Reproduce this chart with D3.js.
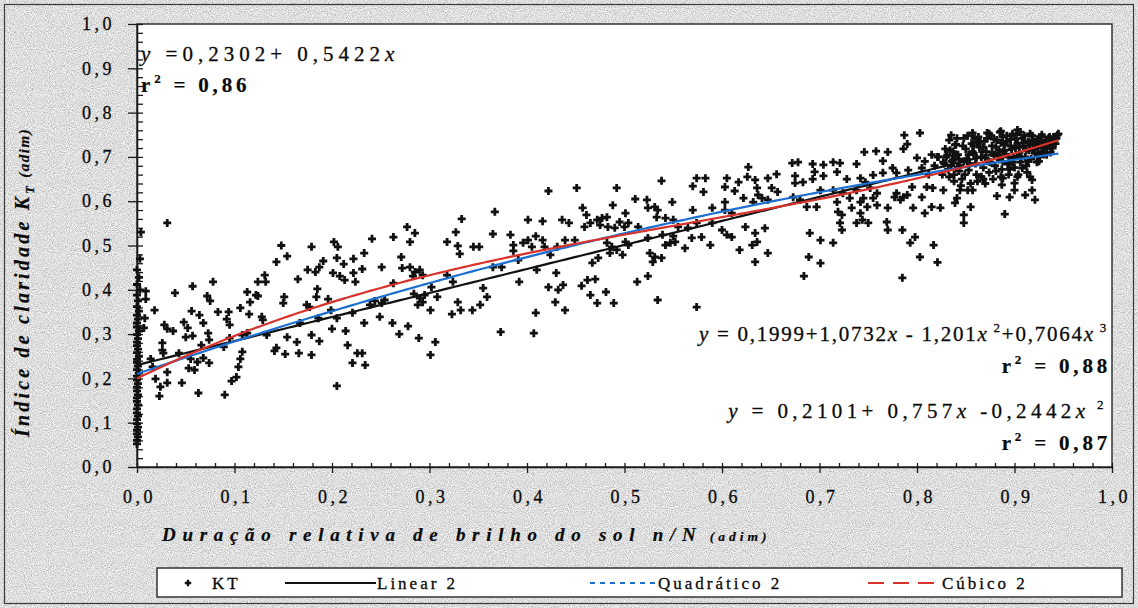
<!DOCTYPE html>
<html>
<head>
<meta charset="utf-8">
<script src="https://cdn.jsdelivr.net/npm/d3@7"></script>
<style>
  body { margin: 0; background: #b8b8b8; }
  svg { display: block; }
  text { font-family: "Liberation Serif", "DejaVu Serif", serif; }
</style>
</head>
<body>
<svg id="chart" width="1138" height="608"></svg>
<script>
// ---- data -------------------------------------------------------------
const xTickValues = [0, 0.1, 0.2, 0.3, 0.4, 0.5, 0.6, 0.7, 0.8, 0.9, 1.0];
const xTickLabels = ["0,0", "0,1", "0,2", "0,3", "0,4", "0,5", "0,6", "0,7", "0,8", "0,9", "1,0"];
const yTickValues = [0, 0.1, 0.2, 0.3, 0.4, 0.5, 0.6, 0.7, 0.8, 0.9, 1.0];
const yTickLabels = ["0,0", "0,1", "0,2", "0,3", "0,4", "0,5", "0,6", "0,7", "0,8", "0,9", "1,0"];

// fitted models (coefficients of a0 + a1 x + a2 x^2 + a3 x^3)
const linearCoef = [0.2302, 0.5422];
const quadCoef = [0.2101, 0.757, -0.2442];
const cubicCoef = [0.1999, 1.0732, -1.201, 0.7064];
const fitRange = [0, 0.945];

const legendLabels = ["KT", "Linear 2", "Quadrático 2", "Cúbico 2"];

// daily observations: [n/N, KT]
const ktPoints = [
  // overcast days (n/N ~ 0)
  [0,0.052],[0,0.060],[0.001,0.068],[0,0.075],[0,0.083],[0.001,0.090],[0,0.098],[0,0.107],[0.001,0.115],[0,0.122],
  [0,0.131],[0.001,0.140],[0,0.148],[0,0.156],[0.001,0.163],[0,0.172],[0,0.180],[0.001,0.188],[0,0.196],[0,0.205],
  [0.002,0.212],[0,0.220],[0.001,0.228],[0,0.236],[0,0.243],[0.002,0.250],[0,0.258],[0.001,0.266],[0,0.274],[0,0.282],
  [0.001,0.290],[0,0.299],[0.002,0.307],[0,0.316],[0,0.325],[0.001,0.334],[0,0.343],[0.002,0.352],[0,0.362],[0.001,0.375],
  [0,0.388],[0.003,0.400],[0,0.412],[0.002,0.428],[0,0.445],[0.003,0.470],[0.004,0.530],
  // 0 – 0.17
  [0.031,0.551],[0.148,0.500],[0.154,0.476],[0.143,0.463],[0.131,0.433],[0.124,0.418],[0.132,0.418],[0.165,0.424],[0.078,0.418],[0.057,0.408],
  [0.039,0.393],[0.009,0.397],[0.009,0.379],[0.072,0.386],[0.075,0.375],[0.113,0.395],[0.122,0.388],[0.116,0.372],[0.124,0.386],[0.151,0.384],
  [0.150,0.370],[0.018,0.354],[0.056,0.352],[0.064,0.343],[0.083,0.350],[0.094,0.350],[0.106,0.359],[0.115,0.345],[0.092,0.334],[0.095,0.321],
  [0.128,0.339],[0.129,0.332],[0.008,0.336],[0.007,0.314],[0.048,0.327],[0.068,0.325],[0.028,0.321],[0.031,0.312],[0.037,0.307],[0.052,0.314],
  [0.050,0.293],[0.057,0.296],[0.073,0.302],[0.074,0.287],[0.026,0.280],[0.026,0.264],[0.027,0.257],[0.043,0.257],[0.066,0.275],[0.089,0.271],
  [0.095,0.291],[0.108,0.298],[0.113,0.302],[0.133,0.298],[0.154,0.293],[0.143,0.269],[0.141,0.262],[0.152,0.255],[0.108,0.260],[0.106,0.244],
  [0.104,0.226],[0.102,0.203],[0.097,0.194],[0.014,0.244],[0.016,0.226],[0.055,0.244],[0.062,0.237],[0.068,0.246],[0.074,0.235],[0.053,0.223],
  [0.059,0.219],[0.031,0.214],[0.019,0.199],[0.031,0.190],[0.024,0.181],[0.023,0.160],[0.046,0.190],[0.063,0.167],[0.090,0.163],[0.166,0.257],
  [0.164,0.282],
  // 0.17 – 0.33
  [0.333,0.560],[0.327,0.530],[0.318,0.508],[0.329,0.499],[0.331,0.481],[0.277,0.542],[0.285,0.528],[0.280,0.508],[0.263,0.519],[0.241,0.515],
  [0.233,0.483],[0.202,0.508],[0.206,0.497],[0.179,0.497],[0.191,0.465],[0.187,0.451],[0.205,0.472],[0.212,0.458],[0.222,0.470],[0.231,0.447],
  [0.175,0.445],[0.183,0.440],[0.201,0.438],[0.208,0.431],[0.222,0.438],[0.213,0.422],[0.224,0.418],[0.251,0.451],[0.271,0.474],[0.272,0.449],
  [0.280,0.451],[0.285,0.440],[0.290,0.445],[0.293,0.433],[0.283,0.431],[0.185,0.402],[0.184,0.384],[0.174,0.366],[0.177,0.361],[0.196,0.379],
  [0.199,0.354],[0.167,0.325],[0.186,0.336],[0.205,0.336],[0.221,0.348],[0.239,0.366],[0.244,0.375],[0.251,0.370],[0.254,0.377],[0.263,0.415],
  [0.249,0.339],[0.233,0.325],[0.262,0.325],[0.200,0.312],[0.214,0.307],[0.179,0.298],[0.187,0.284],[0.179,0.253],[0.216,0.275],[0.226,0.257],
  [0.231,0.257],[0.221,0.235],[0.234,0.230],[0.205,0.183],[0.269,0.300],[0.278,0.318],[0.289,0.291],[0.306,0.282],[0.301,0.253],[0.284,0.391],
  [0.290,0.381],[0.288,0.366],[0.295,0.388],[0.293,0.372],[0.301,0.354],[0.308,0.384],[0.302,0.406],[0.318,0.433],[0.324,0.418],[0.323,0.345],
  [0.332,0.354],[0.329,0.372],
  // 0.33 – 0.50
  [0.422,0.623],[0.451,0.630],[0.492,0.630],[0.367,0.576],[0.401,0.558],[0.416,0.555],[0.436,0.558],[0.443,0.551],[0.488,0.591],[0.457,0.585],
  [0.461,0.569],[0.365,0.526],[0.383,0.524],[0.409,0.521],[0.401,0.512],[0.396,0.506],[0.386,0.501],[0.386,0.488],[0.416,0.512],[0.418,0.497],
  [0.405,0.497],[0.439,0.512],[0.449,0.512],[0.431,0.497],[0.424,0.479],[0.345,0.497],[0.351,0.497],[0.459,0.542],[0.465,0.551],[0.472,0.558],
  [0.477,0.562],[0.482,0.564],[0.475,0.546],[0.483,0.542],[0.490,0.540],[0.495,0.553],[0.500,0.542],[0.482,0.506],[0.487,0.497],[0.492,0.490],
  [0.498,0.479],[0.485,0.483],[0.473,0.472],[0.467,0.461],[0.391,0.467],[0.365,0.451],[0.374,0.451],[0.410,0.445],[0.392,0.418],[0.430,0.438],
  [0.355,0.404],[0.359,0.384],[0.352,0.366],[0.344,0.354],[0.422,0.406],[0.432,0.400],[0.437,0.411],[0.429,0.372],[0.439,0.354],[0.409,0.348],
  [0.407,0.302],[0.456,0.409],[0.462,0.422],[0.470,0.424],[0.465,0.388],[0.472,0.370],[0.481,0.395],[0.489,0.370],[0.373,0.305],
  // 0.50 – 0.67
  [0.627,0.677],[0.672,0.686],[0.538,0.646],[0.574,0.652],[0.583,0.652],[0.570,0.634],[0.581,0.621],[0.605,0.652],[0.617,0.643],[0.603,0.632],
  [0.613,0.623],[0.626,0.655],[0.634,0.648],[0.636,0.630],[0.637,0.614],[0.632,0.598],[0.641,0.607],[0.647,0.652],[0.656,0.661],[0.651,0.630],
  [0.657,0.621],[0.647,0.603],[0.511,0.605],[0.523,0.603],[0.524,0.585],[0.531,0.587],[0.534,0.580],[0.549,0.598],[0.501,0.573],[0.504,0.551],
  [0.514,0.542],[0.533,0.564],[0.542,0.562],[0.550,0.558],[0.570,0.580],[0.590,0.585],[0.603,0.598],[0.603,0.580],[0.622,0.607],[0.610,0.573],
  [0.590,0.551],[0.555,0.542],[0.565,0.540],[0.574,0.551],[0.501,0.508],[0.504,0.501],[0.524,0.517],[0.539,0.524],[0.550,0.521],[0.542,0.501],
  [0.552,0.508],[0.547,0.506],[0.562,0.494],[0.569,0.517],[0.579,0.519],[0.588,0.501],[0.600,0.535],[0.605,0.524],[0.610,0.519],[0.624,0.542],
  [0.634,0.528],[0.636,0.508],[0.644,0.539],[0.631,0.501],[0.618,0.490],[0.634,0.463],[0.647,0.483],[0.526,0.483],[0.531,0.474],[0.538,0.472],
  [0.529,0.463],[0.513,0.418],[0.524,0.431],[0.534,0.377],[0.574,0.361],
  // 0.67 – 0.84
  [0.787,0.749],[0.803,0.754],[0.835,0.749],[0.839,0.727],[0.790,0.729],[0.786,0.718],[0.746,0.711],[0.758,0.713],[0.770,0.711],[0.678,0.688],
  [0.800,0.698],[0.765,0.691],[0.738,0.684],[0.693,0.684],[0.704,0.682],[0.714,0.688],[0.721,0.686],[0.718,0.666],[0.695,0.666],[0.704,0.657],
  [0.693,0.650],[0.683,0.643],[0.675,0.657],[0.675,0.641],[0.728,0.650],[0.742,0.652],[0.747,0.643],[0.755,0.659],[0.765,0.664],[0.775,0.675],
  [0.779,0.664],[0.791,0.670],[0.805,0.675],[0.821,0.700],[0.827,0.688],[0.831,0.704],[0.837,0.693],[0.842,0.677],[0.673,0.609],[0.680,0.603],
  [0.701,0.625],[0.714,0.625],[0.724,0.618],[0.738,0.625],[0.752,0.630],[0.759,0.618],[0.687,0.587],[0.697,0.587],[0.718,0.598],[0.731,0.607],
  [0.745,0.607],[0.755,0.607],[0.759,0.591],[0.749,0.587],[0.742,0.598],[0.779,0.618],[0.786,0.609],[0.783,0.603],[0.777,0.609],[0.790,0.614],
  [0.795,0.632],[0.810,0.632],[0.816,0.630],[0.827,0.625],[0.805,0.609],[0.719,0.576],[0.723,0.569],[0.721,0.551],[0.723,0.535],[0.733,0.585],
  [0.742,0.573],[0.744,0.558],[0.738,0.551],[0.750,0.551],[0.770,0.585],[0.769,0.553],[0.770,0.535],[0.785,0.535],[0.796,0.585],[0.808,0.573],
  [0.815,0.587],[0.824,0.585],[0.798,0.519],[0.793,0.506],[0.803,0.474],[0.817,0.501],[0.690,0.528],[0.701,0.512],[0.714,0.506],[0.689,0.474],
  [0.701,0.460],[0.684,0.431],[0.785,0.427],[0.821,0.462],
  // 0.84 – 0.95
  [0.944,0.749],[0.903,0.761],[0.885,0.756],[0.872,0.754],[0.857,0.754],[0.923,0.688],[0.908,0.675],[0.916,0.655],[0.918,0.648],[0.903,0.655],
  [0.900,0.641],[0.888,0.652],[0.887,0.637],[0.900,0.625],[0.895,0.609],[0.882,0.612],[0.911,0.614],[0.918,0.625],[0.921,0.603],[0.868,0.650],
  [0.857,0.625],[0.844,0.625],[0.841,0.607],[0.839,0.596],[0.855,0.587],[0.848,0.569],[0.848,0.551],[0.890,0.571],
  [0.830,0.700],[0.832,0.672],[0.834,0.715],[0.836,0.690],[0.838,0.660],[0.840,0.728],[0.842,0.705],[0.844,0.680],[0.846,0.650],[0.848,0.742],
  [0.850,0.718],[0.851,0.695],[0.853,0.670],[0.855,0.640],[0.856,0.730],[0.858,0.708],[0.860,0.685],[0.861,0.660],[0.863,0.745],[0.864,0.722],
  [0.866,0.700],[0.868,0.676],[0.869,0.735],[0.871,0.712],[0.873,0.690],[0.874,0.665],[0.876,0.748],[0.877,0.725],[0.879,0.703],[0.880,0.680],
  [0.882,0.738],[0.884,0.716],[0.885,0.694],[0.887,0.672],[0.888,0.745],[0.890,0.728],[0.891,0.706],[0.893,0.684],[0.894,0.660],[0.896,0.740],
  [0.897,0.718],[0.899,0.698],[0.900,0.676],[0.902,0.750],[0.903,0.730],[0.905,0.710],[0.906,0.688],[0.908,0.742],[0.909,0.722],[0.911,0.700],
  [0.912,0.680],[0.914,0.735],[0.915,0.715],[0.917,0.695],[0.918,0.748],[0.920,0.728],[0.921,0.708],[0.923,0.740],[0.924,0.720],[0.926,0.700],
  [0.927,0.745],[0.929,0.726],[0.930,0.706],[0.932,0.738],[0.933,0.718],[0.935,0.742],[0.936,0.725],[0.938,0.735],[0.940,0.745],[0.942,0.730],
  [0.937,0.710],[0.925,0.690],[0.913,0.665],[0.904,0.660],[0.895,0.672],[0.886,0.655],[0.878,0.650],[0.870,0.640],[0.862,0.645],[0.852,0.625],
  [0.845,0.635],[0.838,0.645],[0.833,0.655],[0.848,0.690],[0.858,0.725],[0.867,0.712],[0.881,0.722],[0.892,0.735],[0.901,0.720],[0.910,0.732],
  [0.919,0.718],[0.928,0.712],[0.934,0.732],[0.874,0.752],[0.886,0.758],[0.898,0.752],[0.906,0.756],[0.916,0.752],[0.862,0.732],[0.853,0.705],
  [0.843,0.695],[0.837,0.712],[0.828,0.685],[0.826,0.660],[0.822,0.700],[0.818,0.680],[0.815,0.705],[0.812,0.660],[0.808,0.690],
  [0.829,0.718],[0.833,0.738],[0.835,0.680],[0.839,0.702],[0.841,0.742],[0.843,0.668],[0.847,0.725],[0.849,0.660],[0.852,0.748],[0.854,0.685],
  [0.857,0.712],[0.859,0.742],[0.861,0.698],[0.865,0.735],[0.866,0.655],[0.868,0.722],[0.870,0.698],[0.872,0.742],[0.875,0.688],[0.877,0.710],
  [0.879,0.740],[0.881,0.668],[0.883,0.705],[0.886,0.732],[0.888,0.690],[0.889,0.715],[0.892,0.748],[0.894,0.700],[0.896,0.725],[0.898,0.688],
  [0.901,0.740],[0.903,0.702],[0.905,0.725],[0.907,0.698],[0.910,0.748],[0.912,0.715],[0.914,0.690],[0.916,0.728],[0.919,0.738],[0.922,0.725],
  [0.924,0.705],[0.926,0.735],[0.928,0.750],[0.931,0.728],[0.933,0.705],[0.936,0.745],[0.939,0.720],[0.941,0.738],[0.943,0.742],[0.945,0.752]
];

// ---- layout -----------------------------------------------------------
const W = 1138, H = 608;
const plot = { left: 137, right: 1112, top: 24, bottom: 467 };
const svg = d3.select("#chart");
const ink = "#0a0a0a";

// grainy grey background
const defs = svg.append("defs");
const grain = defs.append("filter").attr("id", "grain")
  .attr("x", 0).attr("y", 0).attr("width", "100%").attr("height", "100%");
grain.append("feTurbulence").attr("type", "fractalNoise")
  .attr("baseFrequency", 0.95).attr("numOctaves", 2).attr("seed", 7).attr("result", "n");
grain.append("feColorMatrix").attr("in", "n").attr("type", "matrix")
  .attr("values", "0.9 0 0 0 0.28  0.9 0 0 0 0.28  0.9 0 0 0 0.28  0 0 0 0 1");

svg.append("rect").attr("width", W).attr("height", H).attr("fill", "#b8b8b8");
svg.append("rect").attr("width", W).attr("height", H).attr("filter", "url(#grain)");
svg.append("rect").attr("x", 4.5).attr("y", 4.5).attr("width", W - 9).attr("height", H - 9)
  .attr("fill", "none").attr("stroke", "#3a3a3a").attr("stroke-width", 1.2);

// plot area
svg.append("rect")
  .attr("x", plot.left).attr("y", plot.top)
  .attr("width", plot.right - plot.left).attr("height", plot.bottom - plot.top)
  .attr("fill", "#fff").attr("stroke", "#333").attr("stroke-width", 1.5);

const x = d3.scaleLinear().domain([0, 1]).range([plot.left, plot.right]);
const y = d3.scaleLinear().domain([0, 1]).range([plot.bottom, plot.top]);

const tickFont = 18;

// y axis: crossing major ticks + inner minor ticks
const yMinor = svg.append("g").attr("transform", `translate(${plot.left},0)`)
  .call(d3.axisLeft(y).tickValues(d3.range(0, 1.0001, 0.02)).tickSize(-6).tickFormat(""));
yMinor.select(".domain").remove();
const yMajor = svg.append("g").attr("transform", `translate(${plot.left},0)`)
  .call(d3.axisLeft(y).tickValues(yTickValues).tickSizeInner(9).tickSizeOuter(0)
    .tickPadding(13).tickFormat((d, i) => yTickLabels[i]));
yMajor.selectAll("text").attr("font-size", tickFont).attr("letter-spacing", 3.5)
  .attr("fill", ink).attr("stroke", ink).attr("stroke-width", 0.3);

// x axis
const xMinor = svg.append("g").attr("transform", `translate(0,${plot.bottom})`)
  .call(d3.axisBottom(x).tickValues(d3.range(0, 1.0001, 0.02)).tickSize(-4).tickFormat(""));
xMinor.select(".domain").remove();
const xMajor = svg.append("g").attr("transform", `translate(0,${plot.bottom})`)
  .call(d3.axisBottom(x).tickValues(xTickValues).tickSizeInner(6).tickSizeOuter(0)
    .tickPadding(17).tickFormat((d, i) => xTickLabels[i]));
xMajor.selectAll("text").attr("font-size", tickFont).attr("letter-spacing", 3.5)
  .attr("fill", ink).attr("stroke", ink).attr("stroke-width", 0.3).attr("dx", 2);

svg.selectAll(".tick line").attr("stroke", "#1a1a1a").attr("stroke-width", 1.3);
svg.selectAll(".domain").attr("stroke", "#1a1a1a").attr("stroke-width", 1.6);

// scatter of "+" markers
const plusPath = "M-4,0H4M0,-4V4";
svg.append("g").selectAll("path").data(ktPoints).join("path")
  .attr("transform", d => `translate(${x(d[0])},${y(d[1])})`)
  .attr("d", plusPath).attr("stroke", "#111").attr("stroke-width", 2.8).attr("fill", "none");

// fitted curves
const poly = c => v => c.reduce((s, a, k) => s + a * Math.pow(v, k), 0);
const fitX = d3.range(fitRange[0], fitRange[1] + 1e-9, 0.005);
const curve = d3.line().x(d => x(d[0])).y(d => y(d[1]));
const fits = [
  { coef: linearCoef, color: "#111111" },
  { coef: quadCoef, color: "#1c6fd0" },
  { coef: cubicCoef, color: "#d8322c" }
];
fits.forEach(f => {
  const fn = poly(f.coef);
  svg.append("path").datum(fitX.map(v => [v, fn(v)]))
    .attr("d", curve).attr("fill", "none").attr("stroke", f.color).attr("stroke-width", 2.2);
});

// ---- text helpers -----------------------------------------------------
function richText(g, parts, opts) {
  const t = g.append("text").attr("x", opts.x).attr("y", opts.y)
    .attr("font-size", opts.size).attr("letter-spacing", opts.ls || 0)
    .attr("fill", ink).attr("stroke", ink).attr("stroke-width", opts.sw == null ? 0.3 : opts.sw)
    .attr("text-anchor", opts.anchor || "start");
  if (opts.weight) t.attr("font-weight", opts.weight);
  if (opts.italic) t.attr("font-style", "italic");
  parts.forEach(p => {
    const s = t.append("tspan").text(p.t);
    if (p.i) s.attr("font-style", "italic");
    if (p.sup) s.attr("font-size", opts.size * 0.62).attr("dy", -opts.size * 0.42);
    if (p.sub) s.attr("font-size", opts.size * 0.62).attr("dy", opts.size * 0.25);
    if (p.back) s.attr("dy", p.back);
    if (p.size) s.attr("font-size", p.size);
    if (p.ls != null) s.attr("letter-spacing", p.ls);
  });
  return t;
}

const eqSize = 21;
// linear fit
richText(svg, [{ t: "y", i: true }, { t: " =0,2302+ 0,5422" }, { t: "x", i: true }],
  { x: 141, y: 61, size: eqSize, ls: 5 });
richText(svg, [{ t: "r" }, { t: "2", sup: true }, { t: " = 0,86", back: eqSize * 0.42 }],
  { x: 141, y: 92, size: eqSize, ls: 3.8, weight: "bold", sw: 0.2 });

// cubic fit
richText(svg, [{ t: "y", i: true }, { t: " = 0,1999+1,0732" }, { t: "x", i: true }, { t: " - 1,201" },
  { t: "x", i: true }, { t: " 2", sup: true }, { t: "+0,7064", back: eqSize * 0.42 }, { t: "x", i: true },
  { t: " 3", sup: true }],
  { x: 1108, y: 341, size: eqSize, ls: 1.75, anchor: "end" });
richText(svg, [{ t: "r" }, { t: "2", sup: true }, { t: " = 0,88", back: eqSize * 0.42 }],
  { x: 1111, y: 373, size: eqSize, ls: 3.8, weight: "bold", anchor: "end", sw: 0.2 });

// quadratic fit
richText(svg, [{ t: "y", i: true }, { t: " = 0,2101+ 0,757" }, { t: "x", i: true }, { t: " -0,2442" },
  { t: "x", i: true }, { t: " 2", sup: true }],
  { x: 1108, y: 418, size: eqSize, ls: 4.4, anchor: "end" });
richText(svg, [{ t: "r" }, { t: "2", sup: true }, { t: " = 0,87", back: eqSize * 0.42 }],
  { x: 1111, y: 450, size: eqSize, ls: 3.8, weight: "bold", anchor: "end", sw: 0.2 });

// axis titles
richText(svg, [{ t: "Duração relativa de brilho do sol n/N" }, { t: "  (adim)", size: 13.5, ls: 4 }],
  { x: 162, y: 541, size: 19, ls: 6.7, weight: "bold", italic: true, sw: 0.2 });

const yTitle = svg.append("g").attr("transform", "translate(29,437) rotate(-90)");
richText(yTitle, [{ t: "Índice de claridade K" }, { t: "T", sub: true }, { t: " (adim)", size: 15, ls: 1.5, back: -20 * 0.25 }],
  { x: 0, y: 0, size: 20, ls: 3.2, weight: "bold", italic: true, sw: 0.2 });

// ---- legend -----------------------------------------------------------
const lg = svg.append("g");
lg.append("rect").attr("x", 157).attr("y", 568).attr("width", 965).attr("height", 29)
  .attr("fill", "#fff").attr("stroke", "#333").attr("stroke-width", 1.5);
const ly = 583;
lg.append("path").attr("transform", `translate(188,${ly})`).attr("d", "M-3.2,0H3.2M0,-3.2V3.2")
  .attr("stroke", "#111").attr("stroke-width", 2.4);
lg.append("line").attr("x1", 285).attr("x2", 376).attr("y1", ly).attr("y2", ly)
  .attr("stroke", "#111").attr("stroke-width", 2);
lg.append("line").attr("x1", 590).attr("x2", 655).attr("y1", ly).attr("y2", ly)
  .attr("stroke", "#1c6fd0").attr("stroke-width", 2).attr("stroke-dasharray", "5,5");
lg.append("line").attr("x1", 868).attr("x2", 940).attr("y1", ly).attr("y2", ly)
  .attr("stroke", "#d8322c").attr("stroke-width", 2).attr("stroke-dasharray", "16,9");
const legendX = [212, 377, 658, 942];
legendLabels.forEach((s, i) => {
  lg.append("text").attr("x", legendX[i]).attr("y", ly + 6).attr("font-size", 17)
    .attr("letter-spacing", 3).attr("fill", ink).attr("stroke", ink).attr("stroke-width", 0.3).text(s);
});
</script>
</body>
</html>
